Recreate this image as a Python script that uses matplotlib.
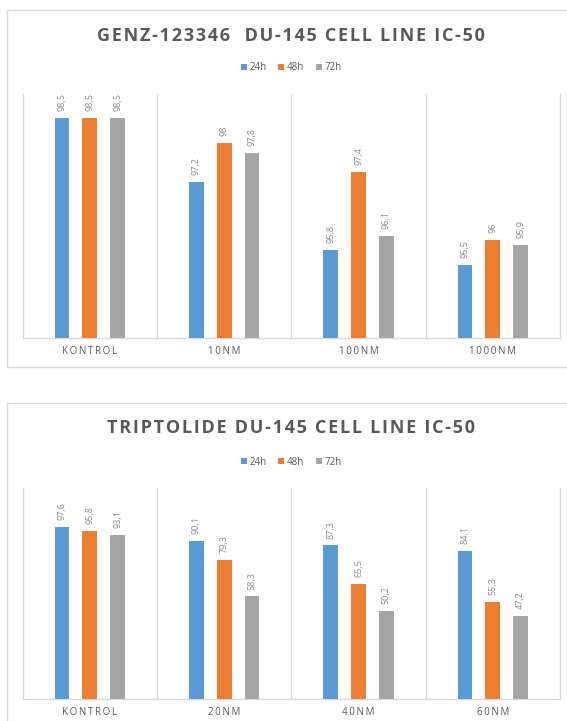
import numpy as np
import matplotlib
matplotlib.use("Agg")
import matplotlib.pyplot as plt
from matplotlib.patches import Rectangle, Patch

plt.rcParams['font.family'] = ['Open Sans', 'DejaVu Sans']

series = ["24h", "48h", "72h"]
colors = ["#5B9BD5", "#ED7D31", "#A5A5A5"]

genz_title = "GENZ-123346  DU-145 CELL LINE IC-50"
genz_cats = ["KONTROL", "10NM", "100NM", "1000NM"]
genz_24 = [98.5, 97.2, 95.8, 95.5]
genz_48 = [98.5, 98.0, 97.4, 96.0]
genz_72 = [98.5, 97.8, 96.1, 95.9]

trip_title = "TRIPTOLIDE DU-145 CELL LINE IC-50"
trip_cats = ["KONTROL", "20NM", "40NM", "60NM"]
trip_24 = [97.6, 90.1, 87.3, 84.1]
trip_48 = [95.8, 79.3, 65.5, 55.3]
trip_72 = [93.1, 58.3, 50.2, 47.2]

W, H = 567, 721
grid_col = "#D9D9D9"
text_col = "#595959"
lab_col = "#8C8C8C"


def spaced(s, sep="\u200a"):
    return sep.join(list(s))


def fmt(v):
    s = ("%.1f" % v).rstrip("0").rstrip(".")
    return s.replace(".", ",")


def chart(fig, frame, plot_box, title_y, legend_y, title, cats, data, ylim):
    # frame (pixel coords: x0, y0 top, y1 bottom)
    fx, fy0, fy1 = frame
    fig.patches.append(Rectangle((fx / W, 1 - fy1 / H), 1.2, (fy1 - fy0) / H,
                                 transform=fig.transFigure, fill=False,
                                 edgecolor=grid_col, linewidth=1.0))
    px0, px1, ptop, pbot = plot_box
    ax = fig.add_axes([px0 / W, 1 - pbot / H, (px1 - px0) / W, (pbot - ptop) / H])
    x = np.arange(len(cats))
    offs = [-0.207, 0.0, 0.207]
    for vals, off, c in zip(data, offs, colors):
        bars = ax.bar(x + off, vals, width=0.11, color=c, zorder=3)
        for b, v in zip(bars, vals):
            ax.annotate(fmt(v), (b.get_x() + b.get_width() / 2, v),
                        xytext=(0, 5), textcoords="offset points",
                        rotation=90, ha="center", va="bottom",
                        fontsize=6.5, color=lab_col)
    ax.set_xlim(-0.5, len(cats) - 0.5)
    ax.set_ylim(*ylim)
    ax.set_yticks([])
    ax.set_xticks(x)
    ax.set_xticklabels([spaced(c, "\u2009") for c in cats], fontsize=7, color=text_col)
    ax.tick_params(axis="x", length=0, pad=6)
    for xs in np.arange(0.5, len(cats) - 0.5, 1.0):
        ax.axvline(xs, color=grid_col, linewidth=1.0, zorder=1)
    ax.spines["top"].set_visible(False)
    for s in ["left", "right", "bottom"]:
        ax.spines[s].set_color(grid_col)
        ax.spines[s].set_linewidth(1.0)
    cx = (px0 + px1) / 2 / W
    fig.text(cx, 1 - title_y / H, spaced(title), ha="center", va="center",
             fontsize=13, fontweight="bold", color=text_col)
    handles = [Patch(facecolor=c, label=s) for c, s in zip(colors, series)]
    fig.legend(handles=handles, loc="center", bbox_to_anchor=(cx, 1 - legend_y / H),
               ncol=3, frameon=False, fontsize=7, labelcolor=text_col,
               handlelength=0.6, handleheight=0.6, handletextpad=0.3,
               columnspacing=1.2, borderpad=0)
    return ax


fig = plt.figure(figsize=(W / 100, H / 100), dpi=100)

chart(fig, (7, 10, 367), (22.7, 560, 94, 338), 36, 68,
      genz_title, genz_cats, [genz_24, genz_48, genz_72], (94, 99))
chart(fig, (7, 403, 760), (22.7, 560, 488, 699), 428.5, 462,
      trip_title, trip_cats, [trip_24, trip_48, trip_72], (0, 120))

fig.savefig("out.png", dpi=100)
